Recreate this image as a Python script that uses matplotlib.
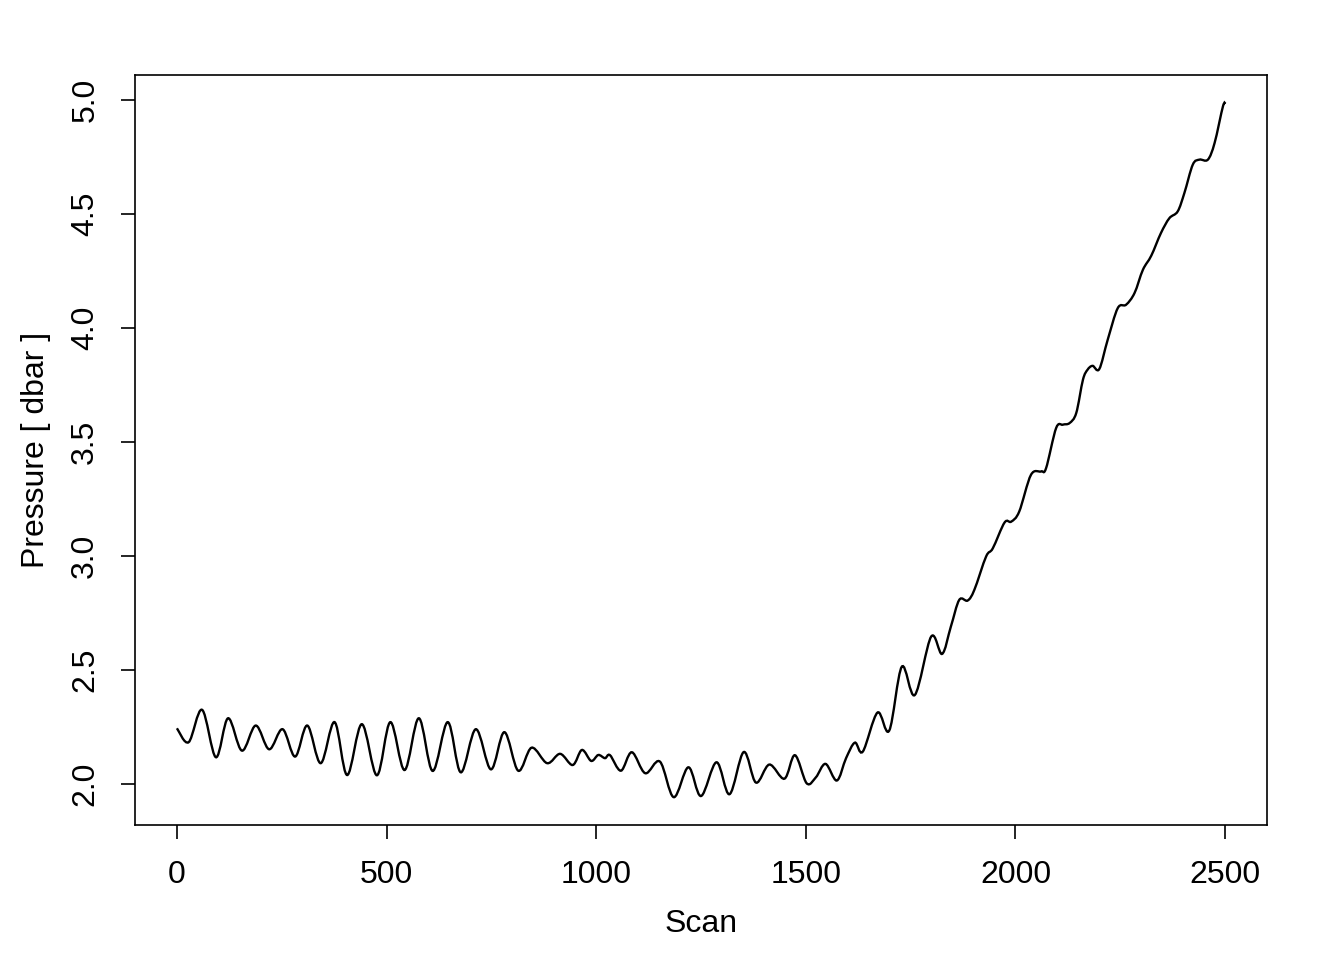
import matplotlib
matplotlib.use("Agg")
import matplotlib.pyplot as plt
from matplotlib.path import Path
from matplotlib.patches import PathPatch

plt.rcParams['font.family'] = ['Liberation Sans', 'DejaVu Sans']

# points (scan, pressure in dbar)
scan = [0, 28, 60, 93, 122, 155, 188, 220, 252, 282, 311, 343, 376, 406, 441,
        477, 509, 543, 577, 610, 646, 677, 713, 749, 781, 814, 846, 883, 914,
        944, 966, 988, 1005, 1021, 1033, 1059, 1085, 1117, 1152, 1185, 1220,
        1250, 1287, 1318, 1352, 1381, 1413, 1449, 1474, 1502, 1524, 1547, 1574,
        1596, 1617, 1636, 1671, 1699, 1729, 1760, 1799, 1825, 1846, 1866, 1886,
        1902, 1930, 1946, 1974, 1990, 2009, 2037, 2061, 2073, 2097, 2113, 2129,
        2145, 2161, 2172, 2184, 2200, 2220, 2244, 2264, 2284, 2304, 2324, 2347,
        2367, 2387, 2403, 2423, 2439, 2459, 2475, 2495, 2501]
pressure = [2.244, 2.183, 2.325, 2.117, 2.288, 2.146, 2.256, 2.152, 2.240, 2.120,
            2.256, 2.091, 2.271, 2.039, 2.262, 2.038, 2.271, 2.061, 2.288, 2.057,
            2.271, 2.051, 2.240, 2.064, 2.227, 2.058, 2.159, 2.091, 2.132, 2.083,
            2.149, 2.101, 2.127, 2.113, 2.126, 2.058, 2.139, 2.047, 2.098, 1.942,
            2.073, 1.947, 2.095, 1.955, 2.140, 2.006, 2.085, 2.023, 2.126, 2.003,
            2.029, 2.088, 2.015, 2.113, 2.181, 2.142, 2.313, 2.234, 2.514, 2.390,
            2.646, 2.570, 2.690, 2.807, 2.804, 2.851, 2.997, 3.033, 3.146, 3.150,
            3.194, 3.355, 3.370, 3.384, 3.560, 3.575, 3.582, 3.626, 3.772, 3.816,
            3.833, 3.819, 3.947, 4.086, 4.101, 4.152, 4.254, 4.316, 4.415, 4.480,
            4.510, 4.591, 4.715, 4.737, 4.737, 4.810, 4.971, 4.982]

xticks = [0, 500, 1000, 1500, 2000, 2500]
yticks = [2.0, 2.5, 3.0, 3.5, 4.0, 4.5, 5.0]


def smooth_path(xs, ys):
    # cubic bezier segments through the read points (catmull-rom style)
    pts = list(zip(xs, ys))
    verts = [pts[0]]
    codes = [Path.MOVETO]
    n = len(pts)
    for i in range(n - 1):
        p0 = pts[max(i - 1, 0)]
        p1 = pts[i]
        p2 = pts[i + 1]
        p3 = pts[min(i + 2, n - 1)]
        c1 = (p1[0] + (p2[0] - p0[0]) / 6, p1[1] + (p2[1] - p0[1]) / 6)
        c2 = (p2[0] - (p3[0] - p1[0]) / 6, p2[1] - (p3[1] - p1[1]) / 6)
        verts += [c1, c2, p2]
        codes += [Path.CURVE4] * 3
    return Path(verts, codes)


fig = plt.figure(figsize=(13.44, 9.6), dpi=100)
ax = fig.add_axes([135 / 1344, 1 - 825 / 960, 1132 / 1344, 750 / 960])
ax.add_patch(PathPatch(smooth_path(scan, pressure), facecolor='none',
                       edgecolor='black', lw=1.7))

ax.set_xlim(-100, 2600)
ax.set_ylim(1.820, 5.108)
ax.set_xticks(xticks)
ax.set_xticklabels([str(t) for t in xticks])
ax.set_yticks(yticks)
ax.set_yticklabels(['%.1f' % t for t in yticks], rotation=90, va='center')
ax.tick_params(axis='both', labelsize=23, length=10, width=1.2, pad=15)
for s in ax.spines.values():
    s.set_linewidth(1.2)

ax.set_xlabel('Scan', fontsize=23, labelpad=14)
ax.set_ylabel('Pressure [ dbar ]', fontsize=23, labelpad=14)

fig.savefig('out.png', dpi=100)
